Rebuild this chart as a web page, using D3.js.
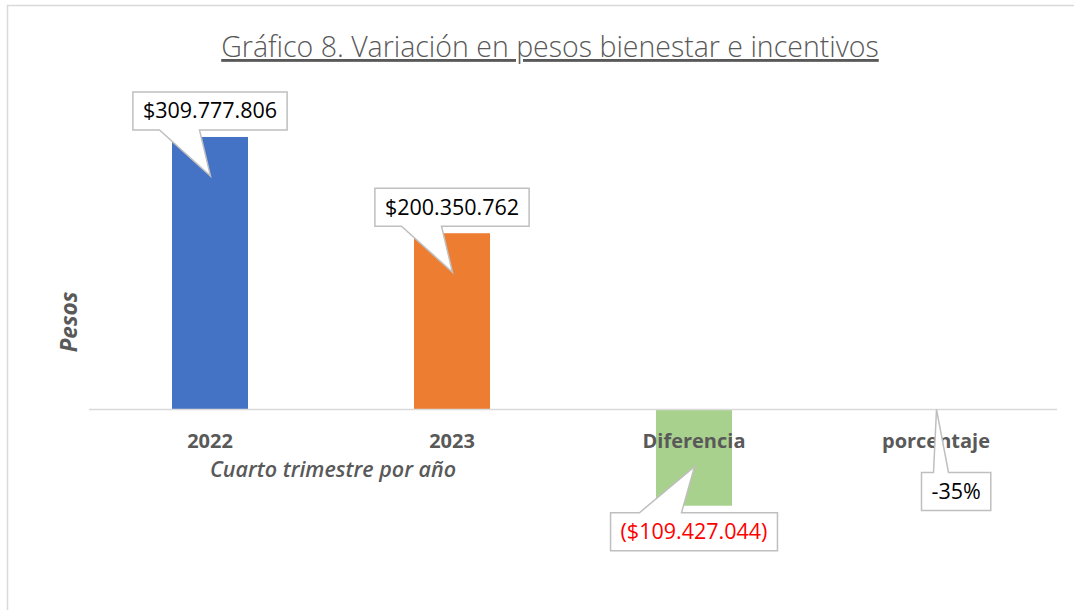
<!DOCTYPE html>
<html>
<head>
<meta charset="utf-8">
<script src="https://cdn.jsdelivr.net/npm/d3@7"></script>
<style>
  html, body { margin: 0; padding: 0; background: #fff; }
  svg { display: block; }
</style>
</head>
<body>
<svg id="chart" width="1074" height="610"></svg>
<script>
// ---- data ----
const categories = ["2022", "2023", "Diferencia", "porcentaje"];
const values = [309777806, 200350762, -109427044, -0.35];
const valueLabels = ["$309.777.806", "$200.350.762", "($109.427.044)", "-35%"];
const barColors = ["#4472C4", "#ED7D31", "#A9D18E", "#FFC000"];
const labelColors = ["#000000", "#000000", "#FF0000", "#000000"];
const titleText = "Gráfico 8. Variación en pesos bienestar e incentivos";
const xTitle = "Cuarto trimestre por año";
const yTitle = "Pesos";

// ---- layout ----
const W = 1074, H = 610;
const FONT = "'Open Sans', 'DejaVu Sans', sans-serif";
const svg = d3.select("#chart");

// chart frame
svg.append("rect").attr("x", 7.5).attr("y", 5.5).attr("width", W + 10).attr("height", H + 10)
  .attr("fill", "#fff").attr("stroke", "#d9d9d9").attr("stroke-width", 1.5);

const x = d3.scaleBand().domain(categories).range([89, 1057]).paddingInner(0.686).paddingOuter(0.343);
const y = d3.scaleLinear().domain([-150e6, 350e6]).range([541.4, 101.6]);

// bars
svg.append("g").selectAll("rect").data(categories).join("rect")
  .attr("x", d => x(d))
  .attr("width", x.bandwidth())
  .attr("y", (d, i) => Math.min(y(values[i]), y(0)))
  .attr("height", (d, i) => Math.abs(y(values[i]) - y(0)))
  .attr("fill", (d, i) => barColors[i]);

// x axis line
svg.append("line").attr("x1", 89).attr("x2", 1057).attr("y1", y(0)).attr("y2", y(0))
  .attr("stroke", "#d9d9d9").attr("stroke-width", 1.5);

// category labels
svg.append("g").selectAll("text").data(categories).join("text")
  .attr("x", d => x(d) + x.bandwidth() / 2)
  .attr("y", 448)
  .attr("text-anchor", "middle")
  .attr("font-family", FONT).attr("font-weight", "bold").attr("font-size", 20)
  .attr("fill", "#595959")
  .text(d => d);

// axis titles
svg.append("text").attr("x", 333).attr("y", 477).attr("text-anchor", "middle")
  .attr("font-family", FONT).attr("font-style", "italic").attr("font-weight", 600).attr("font-size", 21.5)
  .attr("fill", "#595959").text(xTitle);

svg.append("text").attr("transform", "translate(77,322) rotate(-90)").attr("text-anchor", "middle")
  .attr("font-family", FONT).attr("font-style", "italic").attr("font-weight", "bold").attr("font-size", 22.5)
  .attr("fill", "#595959").text(yTitle);

// title
svg.append("text").attr("x", 550).attr("y", 57).attr("text-anchor", "middle")
  .attr("font-family", FONT).attr("font-weight", 300).attr("font-size", 28.5)
  .attr("fill", "#595959").attr("text-decoration", "underline").text(titleText);

// callouts
const calloutG = svg.append("g");
categories.forEach((c, i) => {
  const cx = x(c) + x.bandwidth() / 2;
  const endY = y(values[i]);
  const positive = values[i] > 0;
  const big = Math.abs(y(values[i]) - y(0)) > 5;
  const tipX = cx + 0.5;
  const tipY = big ? (positive ? endY + 39 : endY - 39) : endY;
  const g = calloutG.append("g");
  const t = g.append("text")
    .attr("font-family", FONT).attr("font-size", 21.5)
    .attr("fill", labelColors[i]).attr("text-anchor", "middle")
    .text(valueLabels[i]);
  const tw = t.node().getComputedTextLength();
  const bw = tw + 20, bh = 38;
  let bx, by, path;
  if (positive) {
    bx = cx - bw / 2; by = tipY - 46 - bh;
    const b = by + bh;
    path = `M${bx},${by}H${bx + bw}V${b}H${tipX - 11}L${tipX},${tipY}L${tipX - 51},${b}H${bx}Z`;
  } else if (big) {
    bx = cx - bw / 2; by = tipY + 46;
    path = `M${bx},${by}H${tipX - 55}L${tipX},${tipY}L${tipX - 13},${by}H${bx + bw}V${by + bh}H${bx}Z`;
  } else {
    bx = tipX - 15; by = tipY + 63;
    path = `M${bx},${by}H${tipX - 3}L${tipX},${tipY}L${tipX + 12},${by}H${bx + bw}V${by + bh}H${bx}Z`;
  }
  g.insert("path", "text").attr("d", path).attr("fill", "#fff")
    .attr("stroke", "#bfbfbf").attr("stroke-width", 1.5).attr("stroke-linejoin", "miter");
  t.attr("x", bx + bw / 2).attr("y", by + bh / 2 + 7.5);
});
</script>
</body>
</html>
